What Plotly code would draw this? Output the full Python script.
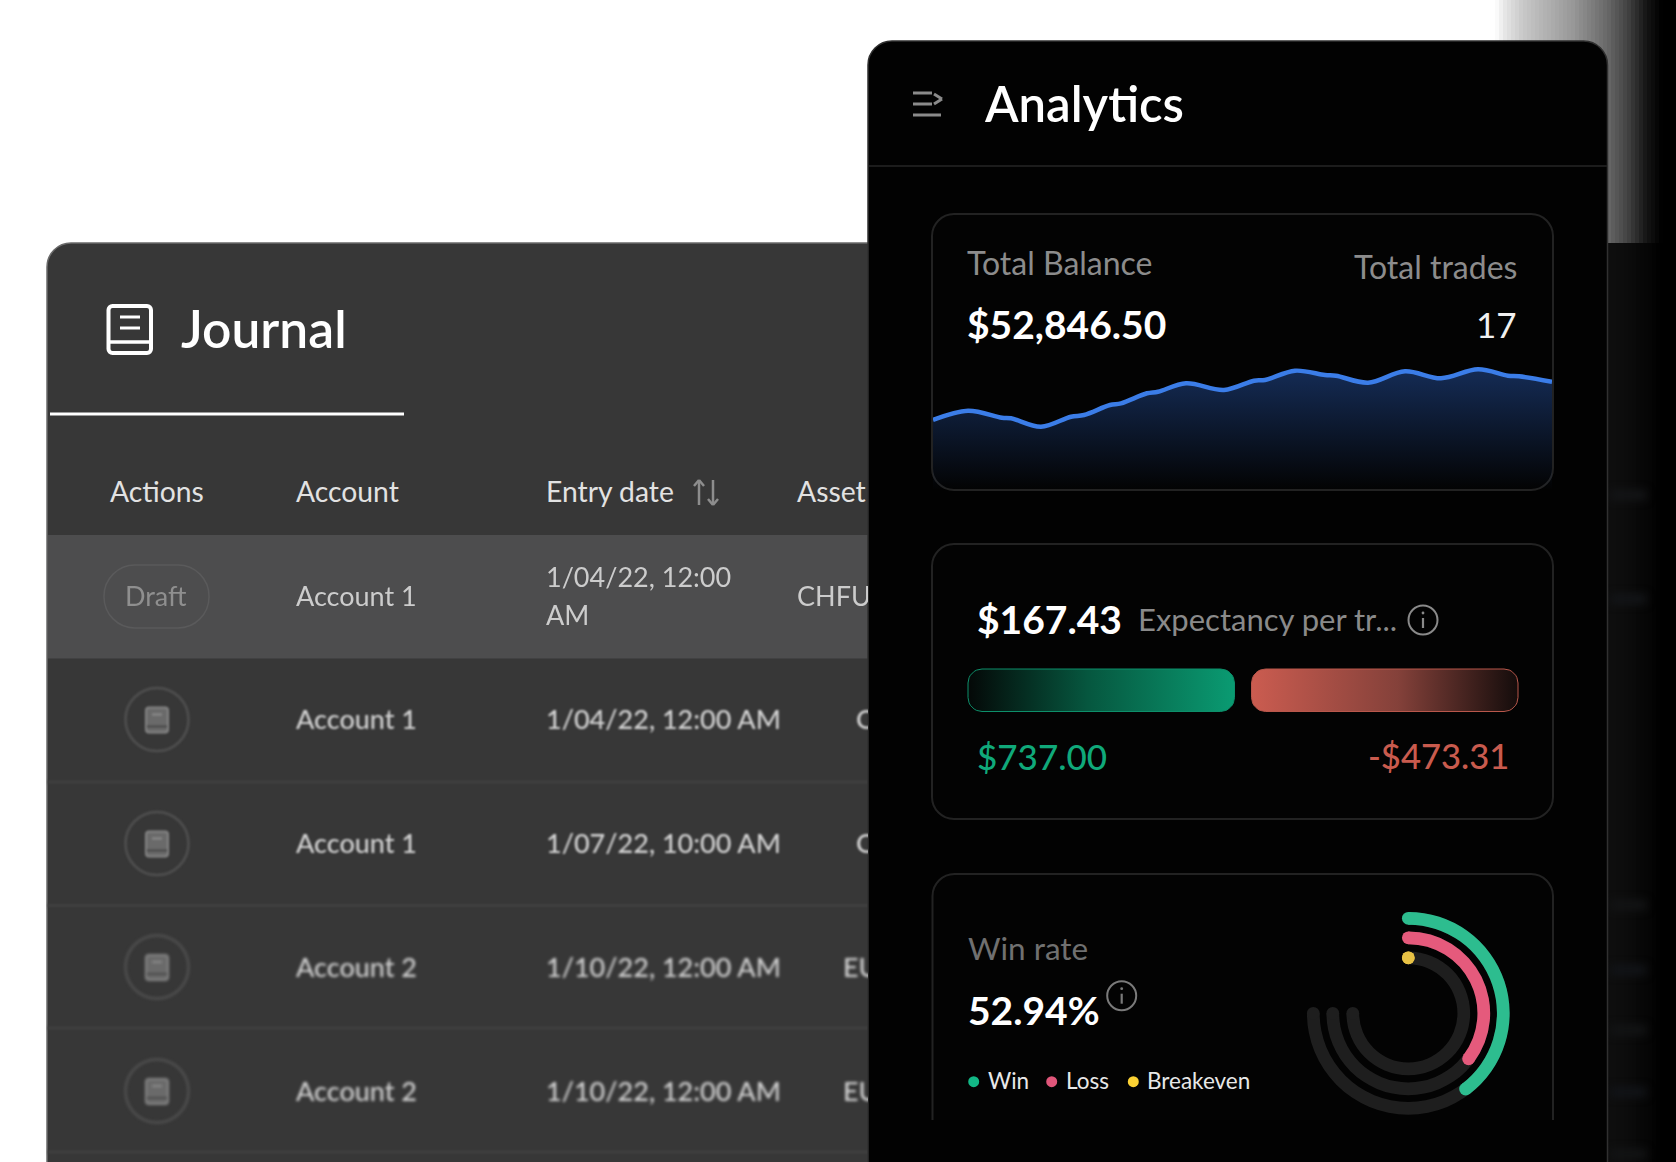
import json
import math
import plotly.graph_objects as go

W, H = 1676, 1162
FONT = "Lato"

# ---------- data ----------
journal_headers = ["Actions", "Account", "Entry date", "Asset"]
draft_label = "Draft"
draft_account = "Account 1"
draft_date_lines = ["1/04/22, 12:00", "AM"]
draft_asset = "CHFUSD"
row_accounts = ["Account 1", "Account 1", "Account 2", "Account 2"]
row_dates = ["1/04/22, 12:00 AM", "1/07/22, 10:00 AM", "1/10/22, 12:00 AM", "1/10/22, 12:00 AM"]
row_assets = ["CHFUSD", "CHFUSD", "EURUSD", "EURUSD"]

balance_x = [0, 35, 69, 78, 108, 138, 151, 177, 188, 214, 225, 253, 291, 321, 332, 362, 392, 403, 435, 472, 508, 545, 575, 586, 619]
balance_y = [70, 79.3, 72.3, 71.7, 63.3, 73.3, 75, 85, 86.7, 96.7, 98.3, 106.7, 100, 109.3, 110, 119.3, 115, 114.3, 107.3, 118.7, 111.7, 120.7, 114.3, 113.7, 108.3]

total_balance = "$52,846.50"
total_trades = "17"
expectancy = "$167.43"
avg_win = "$737.00"
avg_loss = "-$473.31"
win_rate = "52.94%"
ring_names = ["Win", "Loss", "Breakeven"]
ring_values = [52.94, 47.06, 0.0]
ring_colors = ["#2dbd8f", "#e55a7c", "#e8c245"]
legend_colors = ["#12b886", "#e0567a", "#fbd234"]
ring_radius = [95, 75.5, 55.5]

# ---------- helpers ----------
def px(x):
    return x / W

def py(y):
    return 1 - y / H

def rrect_path(x0, y0, x1, y1, r, open_bottom=False):
    k = 0.55 * r
    p = f"M{px(x0)},{py(y1 if open_bottom else y1 - r)} L{px(x0)},{py(y0 + r)} "
    p += f"C{px(x0)},{py(y0 + r - k)} {px(x0 + r - k)},{py(y0)} {px(x0 + r)},{py(y0)} "
    p += f"L{px(x1 - r)},{py(y0)} C{px(x1 - r + k)},{py(y0)} {px(x1)},{py(y0 + r - k)} {px(x1)},{py(y0 + r)} "
    if open_bottom:
        p += f"L{px(x1)},{py(y1)}"
    else:
        p += f"L{px(x1)},{py(y1 - r)} C{px(x1)},{py(y1 - r + k)} {px(x1 - r + k)},{py(y1)} {px(x1 - r)},{py(y1)} "
        p += f"L{px(x0 + r)},{py(y1)} C{px(x0 + r - k)},{py(y1)} {px(x0)},{py(y1 - r + k)} {px(x0)},{py(y1 - r)} Z"
    return p

shapes = []
blur_shapes = []   # (shape index, blur radius)

def rect(x0, y0, x1, y1, color, blur=0):
    shapes.append(dict(type="rect", xref="paper", yref="paper", x0=px(x0), x1=px(x1), y0=py(y1), y1=py(y0),
                       fillcolor=color, line=dict(width=0), layer="below"))
    if blur:
        blur_shapes.append((len(shapes) - 1, blur))

def rpath(x0, y0, x1, y1, r, fill=None, line=None, lw=1.5, open_bottom=False, blur=0):
    shapes.append(dict(type="path", xref="paper", yref="paper", path=rrect_path(x0, y0, x1, y1, r, open_bottom),
                       fillcolor=fill if fill else "rgba(0,0,0,0)",
                       line=dict(color=line if line else "rgba(0,0,0,0)", width=lw if line else 0), layer="below"))
    if blur:
        blur_shapes.append((len(shapes) - 1, blur))

def seg(x0, y0, x1, y1, color, lw=2, blur=0):
    shapes.append(dict(type="line", xref="paper", yref="paper", x0=px(x0), x1=px(x1), y0=py(y0), y1=py(y1),
                       line=dict(color=color, width=lw), layer="below"))
    if blur:
        blur_shapes.append((len(shapes) - 1, blur))

def circ(cx, cy, r, fill=None, line=None, lw=1.5, blur=0):
    shapes.append(dict(type="circle", xref="paper", yref="paper", x0=px(cx - r), x1=px(cx + r), y0=py(cy + r), y1=py(cy - r),
                       fillcolor=fill if fill else "rgba(0,0,0,0)",
                       line=dict(color=line if line else "rgba(0,0,0,0)", width=lw if line else 0), layer="below"))
    if blur:
        blur_shapes.append((len(shapes) - 1, blur))

annotations = []

def label(x, y, text, size, color, anchor="left", weight=400):
    dx = -2 if anchor == "left" else 2
    annotations.append(dict(xref="paper", yref="paper", x=px(x + dx), y=py(y - 1.5), text=text, showarrow=False,
                            xanchor=anchor, yanchor="middle", borderpad=0,
                            font=dict(family=FONT, size=size, color=color, weight=weight)))

def row_blur(yy):
    return 0.9 + (yy - 719) / 372 * 0.9

# ---------- background ----------
def lerp_grey(stops, x):
    for (a, va), (b, vb) in zip(stops, stops[1:]):
        if a <= x <= b:
            return va + (vb - va) * (x - a) / (b - a)
    return stops[-1][1]

upper = [(1495, 255), (1505, 230), (1523, 200), (1573, 152), (1607, 105), (1627, 68), (1647, 20), (1662, 0)]
lower = [(1608, 15), (1625, 13), (1650, 5), (1660, 0)]
for x in range(1495, 1676, 4):
    g = int(lerp_grey(upper, x + 2))
    rect(x, 0, x + 4.5, 243, f"rgb({g},{g},{g})")
rect(1590, 243, W, H, "#000000")
for x in range(1600, 1664, 4):
    g = int(lerp_grey(lower, max(x + 2, 1608)))
    rect(x, 243, x + 4.5, H, f"rgb({g},{g},{g})")
for yy, col in [(495, "#141517"), (599, "#131518"), (905, "#131415"), (970, "#121418"),
                (1030, "#131415"), (1092, "#121418"), (1154, "#131415")]:
    rect(1610, yy - 5, 1646, yy + 5, col, blur=4)

# ---------- journal panel ----------
rpath(47, 243, 1100, H + 40, 24, fill="#373737", line="#6b6b6b", lw=1.5)
rect(48, 535, 880, 658.5, "#4d4d4e")
seg(50, 414, 404, 414, "#ffffff", 3)
for yy in [782, 905.5, 1028, 1152]:
    seg(48, yy, 880, yy, "#404040", 3, blur=1)
# journal icon
rpath(108.5, 306, 151, 353, 4, line="#ffffff", lw=4)
seg(108.5, 342, 151, 342, "#ffffff", 3.5)
seg(120, 317, 140, 317, "#ffffff", 3)
seg(120, 328, 140, 328, "#ffffff", 3)
# sort arrows
seg(699, 505, 699, 480, "#8d8d8d", 2.5)
seg(694, 486, 699, 480, "#8d8d8d", 2.5)
seg(704, 486, 699, 480, "#8d8d8d", 2.5)
seg(713, 480, 713, 505, "#8d8d8d", 2.5)
seg(708, 499, 713, 505, "#8d8d8d", 2.5)
seg(718, 499, 713, 505, "#8d8d8d", 2.5)
# draft pill
rpath(104, 565, 209, 628, 31, line="#5a5a5b", lw=1.5)
row_y = [719.5, 843.5, 967, 1091]
for yy in row_y:
    b = row_blur(yy)
    circ(157, yy, 31.5, line="#505050", lw=2.5, blur=b)
    rpath(146, yy - 12, 168, yy + 13, 3, fill="#6a6a6a", line="#868686", lw=2, blur=b)
    seg(147, yy + 7, 167, yy + 7, "#3f3f3f", 1.5, blur=b)
    seg(152, yy - 5, 162, yy - 5, "#8c8c8c", 2, blur=b)

# ---------- analytics panel ----------
rpath(868, 41, 1607.5, H + 40, 24, fill="#020202", line="#303030", lw=1.5)
seg(869, 166, 1607, 166, "#1c1c1c", 2)
seg(913, 93, 932, 93, "#8a8a8a", 3)
seg(913, 104, 932, 104, "#8a8a8a", 3)
seg(913, 115, 941, 115, "#8a8a8a", 3)
seg(934, 94, 942, 99, "#8a8a8a", 3)
seg(942, 99, 934, 104, "#8a8a8a", 3)

# cards
rpath(932, 214, 1553, 490, 22, fill="#030303", line="#222222", lw=2)
rpath(932, 544, 1553, 819, 22, fill="#030303", line="#222222", lw=2)
rpath(932.5, 874, 1553, 1120, 22, fill="#030303", line="#222222", lw=2, open_bottom=True)

# info icons
def info(cx, cy, color):
    circ(cx, cy, 14.5, line=color, lw=2)
    seg(cx, cy - 2, cx, cy + 8, color, 2.2)
    circ(cx, cy - 7, 1.4, fill=color)

info(1423, 620, "#8a8a8a")
info(1121.7, 995.7, "#7a7a7a")

# text in analytics
label(985, 104, "Analytics", 49, "#ffffff", weight=600)
label(968, 264, "Total Balance", 32, "#8c8c8c")
label(1516, 268, "Total trades", 32, "#8c8c8c", anchor="right")
label(968, 325, total_balance, 39, "#ffffff", weight=700)
label(1516, 325, total_trades, 35, "#f0f0f0", anchor="right")
label(978, 620, expectancy, 39, "#ffffff", weight=700)
label(1139, 620, "Expectancy per tr...", 31, "#8a8a8a")
label(978, 757, avg_win, 35, "#10a97a", weight=500)
label(1508, 757, avg_loss, 34.6, "#c95b4e", anchor="right", weight=500)
label(969, 949, "Win rate", 31.5, "#707070")
label(969, 1011, win_rate, 39, "#ffffff", weight=700)
legend_x = [[973.7, 988.7], [1051.7, 1066.7], [1133.3, 1148]]
for (dx, tx), name, col in zip(legend_x, ring_names, legend_colors):
    circ(dx, 1081.7, 5.5, fill=col)
    label(tx, 1081.5, name, 22.5, "#e8e8e8")
label(182, 329, "Journal", 51.5, "#ffffff", weight=600)

# ---------- figure ----------
fig = go.Figure()

def dom_x(a, b):
    return [a / W, b / W]

def dom_y(a, b):
    return [1 - b / H, 1 - a / H]

hidden = dict(visible=False, fixedrange=True)
layout_axes = {
    # journal table: clipped where the analytics panel begins
    "xaxis": dict(hidden, domain=dom_x(47, 868), range=[47, 868]),
    "yaxis": dict(hidden, domain=dom_y(243, H), range=[H, 243]),
    # balance sparkline
    "xaxis2": dict(hidden, domain=dom_x(933, 1552), range=[0, 619]),
    "yaxis2": dict(hidden, domain=dom_y(350, 490), range=[0, 140]),
    # expectancy bars
    "xaxis3": dict(hidden, domain=dom_x(960, 1526), range=[960, 1526]),
    "yaxis3": dict(hidden, domain=dom_y(660, 720), range=[720, 660]),
}

# journal text
HEAD_COLOR, BODY_COLOR = "#e2e2e2", "#d4d4d4"
col_x = [110, 296, 546, 797]
TEXT_DY = 3.2

def table_text(xs, ys, texts, color, size=27, weight=400):
    fig.add_trace(go.Scatter(x=xs, y=[v + TEXT_DY for v in ys], text=texts, mode="text",
                             textposition="middle right", cliponaxis=True,
                             textfont=dict(family=FONT, size=size, color=color, weight=weight), hoverinfo="skip",
                             xaxis="x", yaxis="y"))

table_text(col_x, [492] * 4, journal_headers, HEAD_COLOR, size=28.3)
table_text([125, 296, 546, 546, 797], [596.5, 596.5, 577, 615, 596.5],
           [draft_label, draft_account, draft_date_lines[0], draft_date_lines[1], draft_asset],
           ["#8f8f8f", "#cccccc", "#cccccc", "#cccccc", "#cccccc"])
asset_x = [856, 856, 843, 843]
table_text([296] * 4, row_y, row_accounts, BODY_COLOR, weight=500)
table_text([546] * 4, row_y, row_dates, BODY_COLOR, weight=500)
table_text(asset_x, row_y, row_assets, BODY_COLOR, weight=500)

# sparkline
fig.add_trace(go.Scatter(x=balance_x, y=balance_y, mode="lines", xaxis="x2", yaxis="y2",
                         line=dict(color="#3b7de8", width=4.5, shape="spline", smoothing=1),
                         fill="tozeroy",
                         fillgradient=dict(type="vertical",
                                           colorscale=[[0, "rgba(45,100,200,0)"], [1, "rgba(45,100,200,0.42)"]]),
                         hoverinfo="skip"))

# gradient bars
def round_bar(x0, x1, y0, y1, r):
    xs, ys = [], []
    corners = [(x0 + r, y0 + r, 180), (x1 - r, y0 + r, 270), (x1 - r, y1 - r, 0), (x0 + r, y1 - r, 90)]
    for cx, cy, a0 in corners:
        for i in range(9):
            a = math.radians(a0 + i * 90 / 8)
            xs.append(cx + r * math.cos(a))
            ys.append(cy + r * math.sin(a))
    return xs + xs[:1], ys + ys[:1]

gx, gy = round_bar(968, 1234.5, 669, 711.5, 14)
fig.add_trace(go.Scatter(x=gx, y=gy, mode="lines", fill="toself", xaxis="x3", yaxis="y3", hoverinfo="skip",
                         line=dict(color="#0d8f6a", width=1),
                         fillgradient=dict(type="horizontal", colorscale=[[0, "#040807"], [0.45, "#06573f"], [1, "#0a9b72"]])))
rx, ry = round_bar(1251.5, 1518, 669, 711.5, 14)
fig.add_trace(go.Scatter(x=rx, y=ry, mode="lines", fill="toself", xaxis="x3", yaxis="y3", hoverinfo="skip",
                         line=dict(color="#b9574b", width=1),
                         fillgradient=dict(type="horizontal", colorscale=[[0, "#cb5c50"], [0.55, "#84413a"], [1, "#140c0b"]])))

# win-rate rings
RING_SPAN = 270
THICK = 12.7
R_MAX = 110
for r_mid in ring_radius:
    fig.add_trace(go.Barpolar(r=[THICK], base=[r_mid - THICK / 2], theta=[RING_SPAN / 2], width=[RING_SPAN],
                              marker=dict(color="#1e1e1e", line=dict(width=0)), hoverinfo="skip", subplot="polar"))
    fig.add_trace(go.Scatterpolar(r=[r_mid], theta=[RING_SPAN], mode="markers", subplot="polar", hoverinfo="skip",
                                  marker=dict(size=THICK, color="#1e1e1e", line=dict(width=0))))
for r_mid, val, col in zip(ring_radius, ring_values, ring_colors):
    span = val / 100 * RING_SPAN
    if span > 0:
        fig.add_trace(go.Barpolar(r=[THICK], base=[r_mid - THICK / 2], theta=[span / 2], width=[span],
                                  marker=dict(color=col, line=dict(width=0)), hoverinfo="skip", subplot="polar"))
    fig.add_trace(go.Scatterpolar(r=[r_mid, r_mid], theta=[0, span], mode="markers", subplot="polar", hoverinfo="skip",
                                  marker=dict(size=THICK, color=col, line=dict(width=0))))

RC = (1408.3, 1013.3)
fig.update_layout(
    width=W, height=H, autosize=False,
    margin=dict(l=0, r=0, t=0, b=0),
    paper_bgcolor="#ffffff", plot_bgcolor="rgba(0,0,0,0)",
    showlegend=False, hovermode=False,
    shapes=shapes, annotations=annotations,
    polar=dict(
        domain=dict(x=dom_x(RC[0] - R_MAX, RC[0] + R_MAX), y=dom_y(RC[1] - R_MAX, RC[1] + R_MAX)),
        bgcolor="rgba(0,0,0,0)",
        radialaxis=dict(visible=False, range=[0, R_MAX]),
        angularaxis=dict(visible=False, rotation=90, direction="clockwise"),
    ),
    **layout_axes,
)

post = """
document.body.style.margin = '0';
document.documentElement.style.background = '#fff';
var gd = document.getElementById('{plot_id}');
gd.querySelectorAll('.textpoint text').forEach(function (t) {
  var y = parseFloat(t.getAttribute('y')) + 243;
  if (y > 658) { t.style.filter = 'blur(' + (0.9 + (y - 719) / 372 * 0.9).toFixed(2) + 'px)'; }
  else if (y > 535) { t.style.filter = 'blur(0.5px)'; }
});
BLUR_IDS.forEach(function (p) {
  gd.querySelectorAll('.shapelayer path[data-index="' + p[0] + '"]').forEach(function (el) {
    el.style.filter = 'blur(' + p[1] + 'px)';
  });
});
""".replace("BLUR_IDS", json.dumps(blur_shapes))

fig.write_html("out.html", config=dict(displayModeBar=False, staticPlot=True), post_script=post)
